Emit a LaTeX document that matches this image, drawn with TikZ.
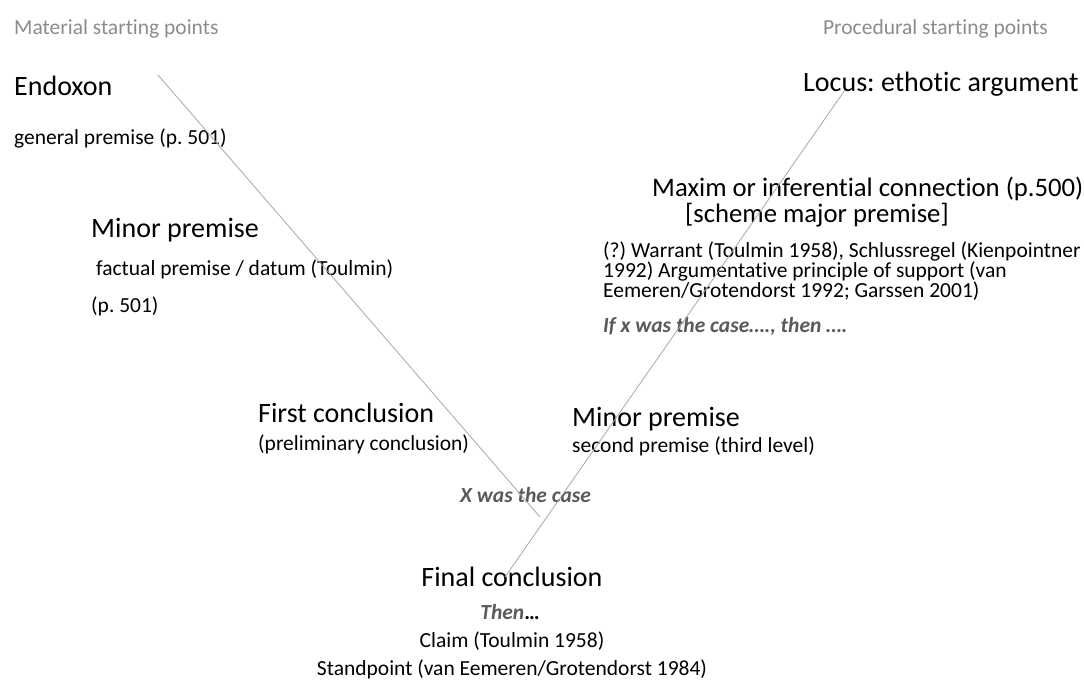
\documentclass[tikz,border=0pt]{standalone}
\usepackage{fontspec}
\setmainfont[Ligatures=NoCommon]{Carlito}
\frenchspacing
\definecolor{headgray}{HTML}{8C8C8C}
\definecolor{emgray}{HTML}{5A5A5A}
\definecolor{linegray}{HTML}{A8A8A8}
\begin{document}
\begin{tikzpicture}[x=1pt,y=-1pt,
  txt/.style={inner sep=0pt, anchor=base west, font=\fontsize{21.5}{20}\selectfont},
  big/.style={inner sep=0pt, anchor=base west, font=\fontsize{28}{28}\selectfont},
  mid/.style={inner sep=0pt, anchor=base west, font=\fontsize{26.7}{26}\selectfont},
  hdr/.style={txt, text=headgray},
  emtxt/.style={txt, text=emgray, font=\fontsize{21.5}{20}\selectfont\bfseries\itshape},
  vline/.style={draw=linegray, line width=0.8pt}]
\useasboundingbox (0,0) rectangle (1084,680);
\fill[white] (0,0) rectangle (1084,680);

% headings
\node[hdr] (mat) at (14,34) {Material starting points};
\node[hdr, anchor=base east] (proc) at (1048,34) {Procedural starting points};

% left column
\node[big] (endoxon) at (14,95) {Endoxon};
\node[txt] (genprem) at (14,144) {general premise (p. 501)};
\node[big] (minorL) at (91,237) {Minor premise};
\node[txt] (factual) at (96,275) {factual premise / datum (Toulmin)};
\node[txt] (p501) at (91,312) {(p. 501)};
\node[big] (firstc) at (258,422) {First conclusion};
\node[txt] (prelim) at (258,450) {(preliminary conclusion)};

% right column
\node[big] (locus) at (803,91) {Locus: ethotic argument};
\node[mid] (maxim) at (652,196) {Maxim or inferential connection (p.500)};
\node[mid] (scheme) at (685,222) {[scheme major premise]};
\node[txt] (war1) at (603,257) {(?) Warrant (Toulmin 1958), Schlussregel (Kienpointner};
\node[txt] (war2) at (603,277) {1992) Argumentative principle of support (van};
\node[txt] (war3) at (603,297) {Eemeren/Grotendorst 1992; Garssen 2001)};
\node[emtxt] (ifx) at (603,332) {If x was the case…., then ….};
\node[big] (minorR) at (572,426) {Minor premise};
\node[txt] (second) at (572,452) {second premise (third level)};

% centre
\node[emtxt] (xcase) at (460,502) {X was the case};
\node[big, anchor=base] (finalc) at (512,586) {Final conclusion};
\node[txt, anchor=base] (then) at (510,619) {\textcolor{emgray}{\bfseries\itshape Then}{\bfseries …}};
\node[txt, anchor=base] (claim) at (512,647) {Claim (Toulmin 1958)};
\node[txt, anchor=base] (standp) at (512,675) {Standpoint (van Eemeren/Grotendorst 1984)};

% lines
\coordinate (L1) at (158,75);
\coordinate (L2) at (540,517);
\coordinate (R1) at (845,90);
\coordinate (R2) at (505,577);
\draw[vline] (L1) -- (L2);
\draw[vline] (R1) -- (R2);
\end{tikzpicture}
\end{document}
